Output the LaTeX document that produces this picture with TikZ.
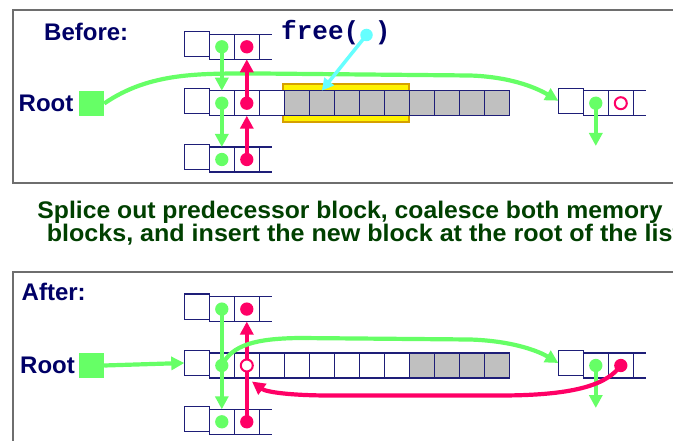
\documentclass[tikz,border=0pt]{standalone}
\usepackage{fontspec}
\setmainfont{Liberation Sans}
\newfontfamily\codefont{Liberation Mono}
\usetikzlibrary{arrows.meta}
\definecolor{navy}{RGB}{0,0,102}
\definecolor{cellline}{RGB}{30,30,120}
\definecolor{lgreen}{RGB}{102,255,102}
\definecolor{pred}{RGB}{255,0,102}
\definecolor{lcyan}{RGB}{102,255,255}
\definecolor{cellgray}{RGB}{192,192,192}
\definecolor{ybord}{RGB}{214,160,0}
\definecolor{capgreen}{RGB}{0,64,0}
\definecolor{framegray}{RGB}{110,110,110}
\tikzset{
 cell/.style={rectangle, draw=cellline, line width=1.1pt, minimum size=25pt, inner sep=0pt, outer sep=0pt, fill=white},
 graycell/.style={cell, fill=cellgray},
 hdr/.style={cell, line width=1.2pt},
 stub/.style={draw=cellline, line width=1.1pt},
 gdot/.style={circle, fill=lgreen, minimum size=13.3pt, inner sep=0pt},
 rdot/.style={circle, fill=pred, minimum size=13.3pt, inner sep=0pt},
 rring/.style={circle, draw=pred, fill=white, line width=2pt, minimum size=12pt, inner sep=0pt},
 cdot/.style={circle, fill=lcyan, minimum size=12.5pt, inner sep=0pt},
 gline/.style={draw=lgreen, line width=4.2pt, -{Triangle[length=13pt,width=13pt]}},
 rline/.style={draw=pred, line width=4.2pt, -{Triangle[length=13pt,width=13pt]}},
 cline/.style={draw=lcyan, line width=3.5pt, -{Triangle[length=12pt,width=12pt]}},
 rootsq/.style={rectangle, fill=lgreen, minimum size=25pt, inner sep=0pt},
 hlbox/.style={rectangle, fill=yellow, draw=ybord, line width=1.5pt, minimum width=126pt, minimum height=38pt, inner sep=0pt},
 frame/.style={draw=framegray, line width=2pt},
 title/.style={anchor=base west, inner sep=0pt, text=navy, font=\fontsize{24}{24}\selectfont\bfseries},
 captxt/.style={anchor=base west, inner sep=0pt, text=capgreen, font=\fontsize{24}{24}\selectfont\bfseries},
 codetxt/.style={anchor=base west, inner sep=0pt, text=navy, font=\fontsize{26}{26}\selectfont\codefont\bfseries},
}
% name, left x of cells, centre y of cells, number of cells
\newcommand\lstblk[4]{%
  \node[hdr] (#1-h) at ({#2-12.5},{#3-2.5}) {};
  \foreach \k in {1,...,#4}{\node[cell] (#1-\k) at ({#2+25*\k-12.5},{#3}) {};}
  \draw[stub] (#1-#4.north east) -- ++(12.5,0) (#1-#4.south east) -- ++(12.5,0);
}
\begin{document}
\begin{tikzpicture}[x=1pt,y=-1pt]
\useasboundingbox[fill=white] (0,0) rectangle (673,441);
% ================= BEFORE =================
\draw[frame] (13.3,10) rectangle (700,183.3);
\node[title] (before) at (44,40.7) {Before:};
\node[title] (rootlblT) at (18.5,111.7) {Root};
\node[rootsq] (rootT) at (91.5,103.5) {};
\node[hlbox] (hl) at (346.2,103) {};
\lstblk{A}{209.3}{46.8}{2}
\lstblk{C}{209.3}{159.5}{2}
\lstblk{R}{583.3}{103.2}{2}
% middle row
\node[hdr] (B-h) at (196.8,100.7) {};
\foreach \k in {1,...,3}{\node[cell] (B-\k) at ({209.3+25*\k-12.5},103.2) {};}
\foreach \k in {4,...,12}{\node[graycell] (B-\k) at ({209.3+25*\k-12.5},103.2) {};}
% green list curve
\coordinate (gc1) at (260,73.5);
\coordinate (gc2) at (470,75.5);
\draw[gline] (rootT.east) .. controls (150,72) and (200,73.5) .. (gc1) -- (gc2) .. controls (515,77) and (540,90) .. (R-h.west);
% dots
\node[gdot] (aG) at (A-1) {};
\node[rdot] (aR) at (A-2) {};
\node[gdot] (bG) at (B-1) {};
\node[rdot] (bR) at (B-2) {};
\node[gdot] (cG) at (C-1) {};
\node[rdot] (cR) at (C-2) {};
\node[gdot] (RG) at (R-1) {};
\node[rring] (RO) at (R-2) {};
\coordinate (RGend) at (595.8,146);
\draw[gline] (aG.center) -- (B-1.north);
\draw[gline] (bG.center) -- (C-1.north);
\draw[rline] (bR.center) -- (A-2.south);
\draw[rline] (cR.center) -- (B-2.south);
\draw[gline] (RG.center) -- (RGend);
% free( )
\node[codetxt] (freetxt) at (281,40) {free(\ )};
\node[cdot] (cyd) at (366.5,35) {};
\draw[cline] (cyd.center) -- (B-5.north);
% ================= CAPTION =================
\node[captxt] (cap1) at (37.3,219) {\scalebox{1.03}[1]{Splice out predecessor block, coalesce both memory}};
\node[captxt] (cap2) at (46.6,242) {\scalebox{1.045}[1]{blocks, and insert the new block at the root of the list}};
% ================= AFTER =================
\draw[frame] (13.3,271.7) rectangle (700,470);
\node[title] (after) at (21.5,300.7) {After:};
\node[title] (rootlblB) at (20,373.5) {Root};
\node[rootsq] (rootB) at (91.5,365.5) {};
\lstblk{D}{209.3}{309.1}{2}
\lstblk{F}{209.3}{421.8}{2}
\lstblk{S}{583.3}{365.5}{2}
\node[hdr] (E-h) at (196.8,363) {};
\foreach \k in {1,...,8}{\node[cell] (E-\k) at ({209.3+25*\k-12.5},365.5) {};}
\foreach \k in {9,...,12}{\node[graycell] (E-\k) at ({209.3+25*\k-12.5},365.5) {};}
\node[gdot] (dG) at (D-1) {};
\node[rdot] (dR) at (D-2) {};
\node[gdot] (eG) at (E-1) {};
\node[gdot] (fG) at (F-1) {};
\node[rdot] (fR) at (F-2) {};
\node[gdot] (SG) at (S-1) {};
\node[rdot] (SR) at (S-2) {};
\coordinate (SGend) at (595.8,408);
\draw[gline] (rootB.east) -- (E-h.west);
\draw[gline] (dG.center) -- (F-1.north);
\draw[rline] (fR.center) -- (D-2.south);
\node[rring] (EO) at (E-2) {};
\draw[gline] (SG.center) -- (SGend);
\coordinate (gc3) at (300,338);
\coordinate (gc4) at (470,339.5);
\draw[gline] (eG.center) .. controls (232,345) and (255,338.5) .. (gc3) -- (gc4) .. controls (515,341) and (540,352) .. (S-h.west);
\coordinate (rc1) at (500,395.5);
\coordinate (rc2) at (330,395.5);
\coordinate (rtip) at (252,381.5);
\draw[rline] (SR.center) .. controls (608,383) and (580,395.5) .. (rc1) -- (rc2) .. controls (290,395.5) and (266,392) .. (rtip);
\end{tikzpicture}
\end{document}
